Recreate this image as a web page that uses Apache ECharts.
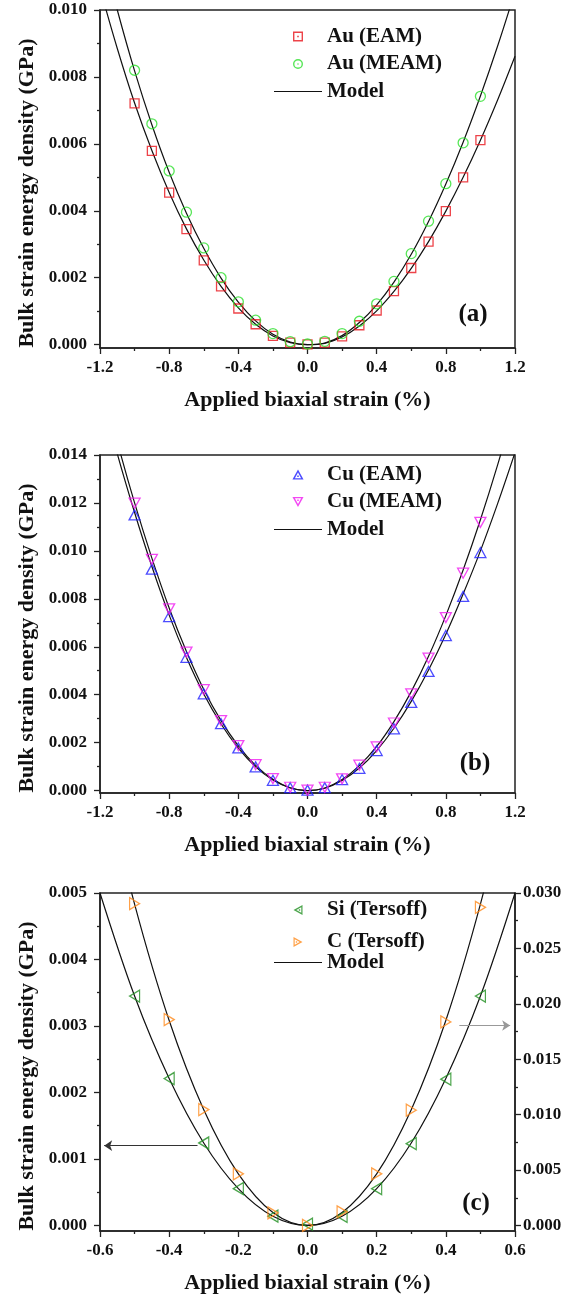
<!DOCTYPE html>
<html>
<head>
<meta charset="utf-8">
<script src="https://cdn.jsdelivr.net/npm/echarts@6/dist/echarts.min.js"></script>
<style>
html,body{margin:0;padding:0;background:#fff;}
#chart{width:577px;height:1296px;}
</style>
</head>
<body>
<div id="chart"></div>
<script>
// ---------- data ----------
const strainAB = [-1.0,-0.9,-0.8,-0.7,-0.6,-0.5,-0.4,-0.3,-0.2,-0.1,0.0,0.1,0.2,0.3,0.4,0.5,0.6,0.7,0.8,0.9,1.0];
const auEAM  = [0.00721,0.00579,0.00454,0.00345,0.00252,0.00174,0.00108,0.00061,0.00026,0.00006,0.00001,0.00006,0.00025,0.00058,0.00102,0.00160,0.00229,0.00308,0.00399,0.00500,0.00611];
const auMEAM = [0.00820,0.00660,0.00519,0.00396,0.00289,0.00200,0.00128,0.00073,0.00033,0.00009,0.00002,0.00010,0.00033,0.00070,0.00122,0.00189,0.00272,0.00369,0.00481,0.00603,0.00742];
const cuEAM  = [0.01150,0.00924,0.00726,0.00556,0.00404,0.00279,0.00178,0.00099,0.00043,0.00012,0.00002,0.00012,0.00046,0.00093,0.00167,0.00258,0.00368,0.00497,0.00647,0.00810,0.00993];
const cuMEAM = [0.01199,0.00965,0.00758,0.00578,0.00421,0.00292,0.00188,0.00108,0.00050,0.00014,0.00002,0.00014,0.00049,0.00106,0.00182,0.00282,0.00404,0.00553,0.00722,0.00907,0.01119];

const curveXAB = [-1.2,-1.1,-1.0,-0.9,-0.8,-0.7,-0.6,-0.5,-0.4,-0.3,-0.2,-0.1,0.0,0.1,0.2,0.3,0.4,0.5,0.6,0.7,0.8,0.9,1.0,1.1,1.2];
const auEAMModel  = [0.01065,0.00885,0.00722,0.00580,0.00455,0.00346,0.00253,0.00174,0.00110,0.00061,0.00026,0.00006,0.00000,0.00004,0.00023,0.00056,0.00101,0.00159,0.00228,0.00308,0.00399,0.00500,0.00611,0.00732,0.00862];
const auMEAMModel = [0.01200,0.01000,0.00818,0.00657,0.00515,0.00393,0.00288,0.00199,0.00127,0.00071,0.00031,0.00008,0.00000,0.00005,0.00027,0.00066,0.00119,0.00187,0.00270,0.00368,0.00480,0.00605,0.00743,0.00893,0.01055];
const cuEAMModel  = [0.01675,0.01405,0.01160,0.00935,0.00732,0.00555,0.00403,0.00278,0.00177,0.00099,0.00044,0.00011,0.00000,0.00010,0.00042,0.00094,0.00167,0.00260,0.00372,0.00503,0.00652,0.00820,0.01000,0.01198,0.01410];
const cuMEAMModel = [0.01735,0.01455,0.01200,0.00970,0.00762,0.00580,0.00422,0.00292,0.00187,0.00105,0.00047,0.00012,0.00000,0.00011,0.00046,0.00104,0.00184,0.00288,0.00413,0.00560,0.00730,0.00920,0.01130,0.01360,0.01610];

const strainC = [-0.5,-0.4,-0.3,-0.2,-0.1,0.0,0.1,0.2,0.3,0.4,0.5];
const siTersoff = [0.00345,0.00221,0.00124,0.000553,0.00014,0.00002,0.000136,0.000553,0.00123,0.00220,0.00345];
const cTersoff  = [0.02904,0.01858,0.01046,0.00466,0.00114,0.00000,0.00123,0.00466,0.01040,0.01837,0.02871];
const curveXC = [-0.6,-0.5,-0.4,-0.3,-0.2,-0.1,0.0,0.1,0.2,0.3,0.4,0.5,0.6];
const siModel = [0.00500,0.00345,0.00221,0.00124,0.000553,0.000138,0.0,0.000138,0.000553,0.00124,0.00221,0.00345,0.00500];
const cModel  = [0.0418,0.0290,0.0185,0.01045,0.00466,0.00117,0.0,0.00117,0.00466,0.01045,0.0185,0.0290,0.0418];

// tick labels
const xTicksAB = [-1.2,-0.8,-0.4,0.0,0.4,0.8,1.2];
const xMinorAB = [-1.0,-0.6,-0.2,0.2,0.6,1.0];
const xTicksC = [-0.6,-0.4,-0.2,0.0,0.2,0.4,0.6];
const xMinorC = [-0.5,-0.3,-0.1,0.1,0.3,0.5];
const yTicksA = [0.000,0.002,0.004,0.006,0.008,0.010];
const yMinorA = [0.001,0.003,0.005,0.007,0.009];
const yTicksB = [0.000,0.002,0.004,0.006,0.008,0.010,0.012,0.014];
const yMinorB = [0.001,0.003,0.005,0.007,0.009,0.011,0.013];
const yTicksCL = [0.000,0.001,0.002,0.003,0.004,0.005];
const yMinorCL = [0.0005,0.0015,0.0025,0.0035,0.0045];
const yTicksCR = [0.000,0.005,0.010,0.015,0.020,0.025,0.030];
const yMinorCR = [0.0025,0.0075,0.0125,0.0175,0.0225,0.0275];

// ---------- helpers ----------
const zip = (xs, ys) => xs.map((x, i) => [x, ys[i]]);
const FONT = '"Liberation Serif", "Times New Roman", serif';
const INK = '#111';
const gridsTop = [10, 455, 893];

// legend icons: hollow symbol with a centre dot
const ICON = {
  square: 'path://M0,0H10V10H0Z M1.4,1.4V8.6H8.6V1.4Z M4.2,4.2H5.8V5.8H4.2Z',
  circle: 'path://M5,0A5,5 0 1,1 5,10A5,5 0 1,1 5,0Z M5,1.4A3.6,3.6 0 1,0 5,8.6A3.6,3.6 0 1,0 5,1.4Z M5,4.2A0.8,0.8 0 1,1 5,5.8A0.8,0.8 0 1,1 5,4.2Z',
  up: 'path://M5,0L10,9L0,9Z M5,2.8L2.2,7.8H7.8Z M4.3,5.3H5.7V6.7H4.3Z',
  down: 'path://M0,0H10L5,9Z M2.2,1.2L5,6.2L7.8,1.2Z M4.3,2.3H5.7V3.7H4.3Z',
  left: 'path://M0,5L9,0V10Z M7.8,2.2L2.8,5L7.8,7.8Z M5.3,4.3H6.7V5.7H5.3Z',
  right: 'path://M0,0L9,5L0,10Z M1.2,2.2V7.8L6.2,5Z M2.3,4.3H3.7V5.7H2.3Z',
  line: 'path://M0,0H48V1.2H0Z'
};

function mainX(grid, min, max, ticks) {
  return {
    type: 'value', gridIndex: grid, min: min, max: max, position: 'bottom',
    name: 'Applied biaxial strain (%)', nameLocation: 'middle', nameGap: 41,
    nameTextStyle: {fontFamily: FONT, fontWeight: 'bold', fontSize: 22, color: INK},
    axisLine: {show: true, onZero: false, lineStyle: {color: '#222', width: 1.5}},
    axisTick: {show: true, inside: false, length: 6, customValues: ticks, lineStyle: {color: '#222', width: 1.3}},
    axisLabel: {show: true, margin: 11, customValues: ticks, fontFamily: FONT, fontWeight: 'bold', fontSize: 17, color: INK,
      formatter: v => Number(v).toFixed(1)},
    splitLine: {show: false}
  };
}
function minorX(grid, min, max, ticks) {
  return {
    type: 'value', gridIndex: grid, min: min, max: max, position: 'bottom',
    axisLine: {show: false, onZero: false},
    axisTick: {show: true, length: 3, customValues: ticks, lineStyle: {color: '#222', width: 1.3}},
    axisLabel: {show: false}, splitLine: {show: false}
  };
}
function mainY(grid, min, max, ticks, pos, withName, margin) {
  const o = {
    type: 'value', gridIndex: grid, min: min, max: max, position: pos,
    axisLine: {show: true, onZero: false, lineStyle: {color: '#222', width: 1.5}},
    axisTick: {show: true, inside: false, length: 6, customValues: ticks, lineStyle: {color: '#222', width: 1.3}},
    axisLabel: {show: true, margin: margin, customValues: ticks, fontFamily: FONT, fontWeight: 'bold', fontSize: 17, color: INK,
      formatter: v => Number(v).toFixed(3)},
    splitLine: {show: false}
  };
  if (withName) {
    o.name = 'Bulk strain energy density (GPa)';
    o.nameLocation = 'middle';
    o.nameGap = 59;
    o.nameRotate = 90;
    o.nameTextStyle = {fontFamily: FONT, fontWeight: 'bold', fontSize: 22, color: INK, padding: [0, 28, 0, 0]};
  }
  return o;
}
function minorY(grid, min, max, ticks, pos) {
  return {
    type: 'value', gridIndex: grid, min: min, max: max, position: pos,
    axisLine: {show: false, onZero: false},
    axisTick: {show: true, length: 3, customValues: ticks, lineStyle: {color: '#222', width: 1.3}},
    axisLabel: {show: false}, splitLine: {show: false}
  };
}
function scatter(name, xi, yi, data, symbol, size, rot, color) {
  return {
    type: 'scatter', name: name, xAxisIndex: xi, yAxisIndex: yi, data: data,
    symbol: symbol, symbolSize: size, symbolRotate: rot, z: 4,
    itemStyle: {color: 'rgba(0,0,0,0)', borderColor: color, borderWidth: 1.3},
    emphasis: {disabled: true}
  };
}
function model(xi, yi, data, extra) {
  return Object.assign({
    type: 'line', name: 'Model', xAxisIndex: xi, yAxisIndex: yi, data: data,
    symbol: 'none', smooth: 0.35, clip: true, z: 3, color: INK,
    itemStyle: {color: INK},
    lineStyle: {color: INK, width: 1.2}, emphasis: {disabled: true}
  }, extra || {});
}
function legendItem(name, icon, color) {
  return {name: name, icon: icon, itemStyle: {color: color, borderWidth: 0}};
}
function legend(left, top, gap, items) {
  return {
    orient: 'vertical', left: left, top: top, padding: 0, itemWidth: 48, itemHeight: 10, itemGap: gap,
    selectedMode: false, symbolKeepAspect: true, symbolRotate: 0, data: items,
    textStyle: {fontFamily: FONT, fontWeight: 'bold', fontSize: 21, lineHeight: 21, color: INK}
  };
}
function label(txt, x, y) {
  return {type: 'text', x: x, y: y, z: 10,
    style: {text: txt, font: 'bold 25px "Liberation Serif", serif', fill: INK, align: 'center', verticalAlign: 'middle'}};
}
function arrow(coords, color) {
  return {silent: true, symbol: ['none', 'arrow'], symbolSize: 8, label: {show: false},
    lineStyle: {color: color, width: 1, type: 'solid'}, itemStyle: {color: color}, animation: false,
    emphasis: {disabled: true},
    data: [[{coord: coords[0]}, {coord: coords[1]}]]};
}

const RED = '#e8141c', GREEN = '#2de02d', BLUE = '#1f1fff', MAGENTA = '#f01cf0', DKGREEN = '#1f8f1f', ORANGE = '#ff8a1a';
const cLeftMin = -0.005 / 60;
const modelItem = legendItem('Model', ICON.line, INK);

const option = {
  animation: false,
  backgroundColor: '#fff',
  grid: gridsTop.map(t => ({left: 100, top: t, width: 415, height: 338, show: true,
    borderColor: '#222', borderWidth: 1.5, backgroundColor: 'rgba(0,0,0,0)', containLabel: false})),
  xAxis: [
    mainX(0, -1.2, 1.2, xTicksAB), minorX(0, -1.2, 1.2, xMinorAB),
    mainX(1, -1.2, 1.2, xTicksAB), minorX(1, -1.2, 1.2, xMinorAB),
    mainX(2, -0.6, 0.6, xTicksC),  minorX(2, -0.6, 0.6, xMinorC)
  ],
  yAxis: [
    mainY(0, -0.0001, 0.010, yTicksA, 'left', true, 13), minorY(0, -0.0001, 0.010, yMinorA, 'left'),
    mainY(1, -0.0001, 0.014, yTicksB, 'left', true, 13), minorY(1, -0.0001, 0.014, yMinorB, 'left'),
    mainY(2, cLeftMin, 0.005, yTicksCL, 'left', true, 13), minorY(2, cLeftMin, 0.005, yMinorCL, 'left'),
    mainY(2, -0.0005, 0.030, yTicksCR, 'right', false, 8), minorY(2, -0.0005, 0.030, yMinorCR, 'right')
  ],
  legend: [
    legend(274, 26, 6.5, [legendItem('Au (EAM)', ICON.square, RED), legendItem('Au (MEAM)', ICON.circle, GREEN), modelItem]),
    legend(274, 464, 6.5, [legendItem('Cu (EAM)', ICON.up, BLUE), legendItem('Cu (MEAM)', ICON.down, MAGENTA), modelItem]),
    legend(293.5, 899.5, 11, [legendItem('Si (Tersoff)', ICON.left, DKGREEN), legendItem('C (Tersoff)', ICON.right, ORANGE)]),
    legend(274, 952, 0, [modelItem])
  ],
  series: [
    model(0, 0, zip(curveXAB, auEAMModel)),
    model(0, 0, zip(curveXAB, auMEAMModel)),
    scatter('Au (EAM)', 0, 0, zip(strainAB, auEAM), 'rect', 9, 0, RED),
    scatter('Au (MEAM)', 0, 0, zip(strainAB, auMEAM), 'circle', 10, 0, GREEN),

    model(2, 2, zip(curveXAB, cuEAMModel)),
    model(2, 2, zip(curveXAB, cuMEAMModel)),
    scatter('Cu (EAM)', 2, 2, zip(strainAB, cuEAM), 'triangle', [11, 10], 0, BLUE),
    scatter('Cu (MEAM)', 2, 2, zip(strainAB, cuMEAM), 'triangle', [11, 10], 180, MAGENTA),

    model(4, 4, zip(curveXC, siModel), {markLine: arrow([[-0.318, 0.0012], [-0.588, 0.0012]], '#333')}),
    model(4, 6, zip(curveXC, cModel), {markLine: arrow([[0.439, 0.01804], [0.586, 0.01804]], '#999')}),
    scatter('Si (Tersoff)', 4, 4, zip(strainC, siTersoff), 'triangle', [12, 10], 90, DKGREEN),
    scatter('C (Tersoff)', 4, 6, zip(strainC, cTersoff), 'triangle', [12, 10], -90, ORANGE)
  ],
  graphic: [label('(a)', 473, 315), label('(b)', 475, 764), label('(c)', 476, 1204)]
};

const chart = echarts.init(document.getElementById('chart'), null, {renderer: 'canvas', width: 577, height: 1296});
chart.setOption(option);
</script>
</body>
</html>
